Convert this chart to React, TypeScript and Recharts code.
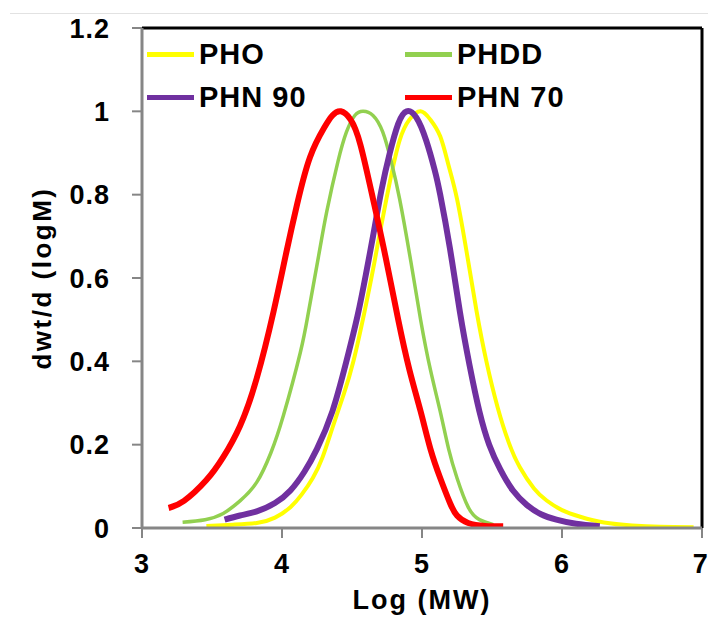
import {
  Line,
  LineChart,
  ReferenceLine,
  XAxis,
  YAxis,
} from 'recharts'

const fontFamily = '"Liberation Sans", Arial, sans-serif'
const axisGray = '#868686'

// log(MW) / dwt/d(logM) samples
const phoX = [3.46, 3.65, 3.82, 3.95, 4.06, 4.14, 4.22, 4.29, 4.36, 4.44, 4.51, 4.59, 4.65, 4.7, 4.77, 4.84, 4.91, 4.99, 5.06, 5.13, 5.19, 5.25, 5.32, 5.39, 5.46, 5.54, 5.62, 5.7, 5.8, 5.89, 6.0, 6.13, 6.3, 6.5, 6.7, 6.94]
const phoY = [0.005, 0.008, 0.012, 0.025, 0.05, 0.08, 0.12, 0.17, 0.24, 0.32, 0.4, 0.52, 0.62, 0.71, 0.83, 0.93, 0.98, 1.0, 0.98, 0.94, 0.87, 0.79, 0.66, 0.52, 0.4, 0.29, 0.205, 0.145, 0.095, 0.066, 0.043, 0.027, 0.013, 0.006, 0.003, 0.002]

const phddX = [3.29, 3.45, 3.58, 3.7, 3.82, 3.92, 4.01, 4.13, 4.19, 4.26, 4.32, 4.4, 4.46, 4.52, 4.58, 4.65, 4.72, 4.78, 4.84, 4.92, 4.99, 5.06, 5.13, 5.19, 5.25, 5.33, 5.41, 5.51]
const phddY = [0.014, 0.02, 0.035, 0.065, 0.11, 0.18, 0.27, 0.42, 0.52, 0.65, 0.76, 0.88, 0.95, 0.99, 1.0, 0.99, 0.95, 0.88, 0.79, 0.64, 0.5, 0.38, 0.28, 0.19, 0.12, 0.05, 0.02, 0.008]

const phn90X = [3.59, 3.7, 3.82, 3.95, 4.06, 4.16, 4.25, 4.36, 4.46, 4.54, 4.6, 4.65, 4.71, 4.77, 4.83, 4.89, 4.96, 5.03, 5.09, 5.13, 5.2, 5.27, 5.34, 5.41, 5.48, 5.56, 5.65, 5.75, 5.85, 5.96, 6.1, 6.27]
const phn90Y = [0.02, 0.03, 0.04, 0.06, 0.09, 0.135, 0.19, 0.28, 0.4, 0.51, 0.61, 0.7, 0.81, 0.9, 0.97, 1.0, 0.985, 0.93, 0.86, 0.8, 0.67, 0.52, 0.39, 0.28, 0.2, 0.14, 0.09, 0.055, 0.033, 0.02, 0.01, 0.004]

const phn70X = [3.19, 3.3, 3.46, 3.58, 3.7, 3.82, 3.94, 4.03, 4.11, 4.2, 4.3, 4.36, 4.42, 4.49, 4.56, 4.65, 4.74, 4.83, 4.91, 4.99, 5.06, 5.13, 5.2, 5.25, 5.33, 5.45, 5.58]
const phn70Y = [0.048, 0.065, 0.115, 0.17, 0.245, 0.36, 0.52, 0.66, 0.78, 0.89, 0.96, 0.99, 1.0, 0.98, 0.92, 0.79, 0.65, 0.5, 0.38, 0.28, 0.19, 0.12, 0.06, 0.03, 0.012, 0.005, 0.004]

const xTicks = [3, 4, 5, 6, 7]
const yTicks = [0, 0.2, 0.4, 0.6, 0.8, 1, 1.2]

const toPoints = (xs: number[], ys: number[]) =>
  xs.map((x, i) => ({ x, y: ys[i] }))

const series = [
  { name: 'PHO', color: '#ffff00', width: 4, data: toPoints(phoX, phoY) },
  { name: 'PHDD', color: '#92d050', width: 3.5, data: toPoints(phddX, phddY) },
  { name: 'PHN 90', color: '#7030a0', width: 6, data: toPoints(phn90X, phn90Y) },
  { name: 'PHN 70', color: '#ff0000', width: 6, data: toPoints(phn70X, phn70Y) },
]

const tickStyle = {
  fill: '#000',
  fontSize: 27,
  fontWeight: 700,
  fontFamily,
  letterSpacing: 1,
}

// legend sits inside the plot frame, top left, in two columns
const LegendBox = () => (
  <div
    style={{
      position: 'absolute',
      left: 139,
      top: 30,
      display: 'grid',
      gridTemplateColumns: '258px 200px',
      rowGap: 10,
      fontFamily,
      fontWeight: 700,
      fontSize: 29,
      letterSpacing: 1,
      lineHeight: '33px',
    }}
  >
    {series.map((s) => (
      <div key={s.name} style={{ display: 'flex', alignItems: 'center' }}>
        <span
          style={{
            display: 'inline-block',
            width: 47,
            height: 5,
            background: s.color,
            marginRight: 5,
          }}
        />
        {s.name}
      </div>
    ))}
  </div>
)

const YTitle = ({ viewBox }: any) => {
  const x = viewBox.x + 34
  const y = viewBox.y + viewBox.height / 2
  return (
    <text
      x={x}
      y={y}
      transform={`rotate(-90, ${x}, ${y})`}
      textAnchor="middle"
      dominantBaseline="central"
      style={{ fontFamily, fontWeight: 700, fontSize: 26, letterSpacing: 2.5 }}
      fill="#000"
    >
      dwt/d (logM)
    </text>
  )
}

const XTitle = ({ viewBox }: any) => (
  <text
    x={viewBox.x + viewBox.width / 2}
    y={601}
    textAnchor="middle"
    style={{ fontFamily, fontWeight: 700, fontSize: 27, letterSpacing: 2 }}
    fill="#000"
  >
    Log (MW)
  </text>
)

export default function App() {
  return (
    <div style={{ position: 'relative', width: 700, height: 614 }}>
      <div
        style={{
          position: 'absolute',
          left: 2,
          right: -8,
          top: 5,
          borderTop: '1px solid #e2e2e2',
        }}
      />
      <LineChart
        width={700}
        height={614}
        margin={{ top: 20, right: 6, bottom: 0, left: 0 }}
      >
        <XAxis
          dataKey="x"
          type="number"
          domain={[3, 7]}
          ticks={xTicks}
          allowDataOverflow
          height={94}
          axisLine={{ stroke: axisGray, strokeWidth: 3 }}
          tickLine={{ stroke: axisGray, strokeWidth: 2 }}
          tickSize={10}
          tickMargin={16}
          tick={tickStyle}
          label={<XTitle />}
        />
        <YAxis
          type="number"
          domain={[0, 1.2]}
          ticks={yTicks}
          allowDataOverflow
          width={134}
          axisLine={{ stroke: axisGray, strokeWidth: 3 }}
          tickLine={{ stroke: axisGray, strokeWidth: 2 }}
          tickSize={10}
          tickMargin={22}
          tick={tickStyle}
          label={<YTitle />}
        />
        <ReferenceLine y={1.2} stroke="#000" strokeWidth={3} />
        <ReferenceLine x={7} stroke="#000" strokeWidth={3} />
        {series.map((s) => (
          <Line
            key={s.name}
            data={s.data}
            dataKey="y"
            name={s.name}
            type="natural"
            stroke={s.color}
            strokeWidth={s.width}
            dot={false}
            activeDot={false}
            isAnimationActive={false}
          />
        ))}
      </LineChart>
      <LegendBox />
    </div>
  )
}
